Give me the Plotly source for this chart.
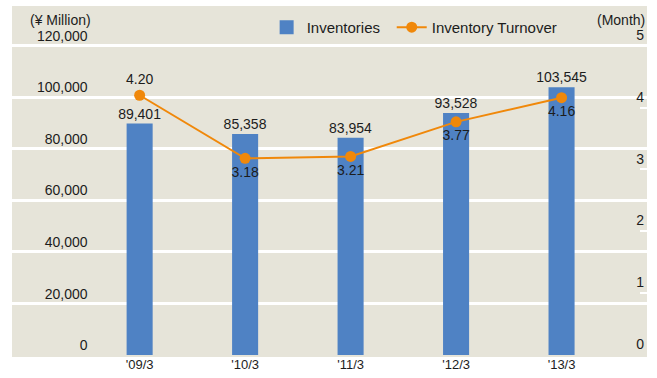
import plotly.graph_objects as go

# Fiscal periods and values
periods = ["'09/3", "'10/3", "'11/3", "'12/3", "'13/3"]
inventories = [89401, 85358, 83954, 93528, 103545]      # ¥ Million
turnover = [4.20, 3.18, 3.21, 3.77, 4.16]               # Month

left_ticks = [0, 20000, 40000, 60000, 80000, 100000, 120000]
right_ticks = [0, 1, 2, 3, 4, 5]

BG = "#e6e4d9"
BAR = "#4f82c4"
ORANGE = "#f0880a"
TEXT = "#1c1c1c"
FONT = "Liberation Sans, Arial, sans-serif"

# headroom above the top gridline (background extends past 120,000 / 5)
head = 351 / 311
y_top = left_ticks[-1] * head
y2_top = right_ticks[-1] * head

fig = go.Figure()

fig.add_trace(go.Bar(
    x=periods, y=inventories, name="Inventories",
    # same-colour outline also enlarges the legend swatch
    marker=dict(color=BAR, line=dict(width=2, color=BAR)),
    width=0.228,
    text=[f"{v:,}" for v in inventories],
    textposition="outside",
    constraintext="none",
    textfont=dict(size=14, color=TEXT, family=FONT),
    cliponaxis=False,
    legend="legend",
))

fig.add_trace(go.Scatter(
    x=periods, y=turnover, name="Inventory Turnover", yaxis="y2",
    mode="lines+markers+text",
    line=dict(color=ORANGE, width=2),
    marker=dict(color=ORANGE, size=11),
    text=[f"{v:.2f}" for v in turnover],
    textposition=["top center"] + ["bottom center"] * 4,
    textfont=dict(size=14, color=TEXT, family=FONT),
    cliponaxis=False,
    legend="legend2",
))

legend_style = dict(
    orientation="h", y=0.986, xanchor="left", yanchor="top",
    bgcolor="rgba(0,0,0,0)", font=dict(size=15, color=TEXT),
    itemwidth=30,
)

fig.update_layout(
    width=657, height=378,
    margin=dict(l=12, r=10, t=6, b=21),
    paper_bgcolor="white",
    plot_bgcolor=BG,
    font=dict(family=FONT, color=TEXT, size=14),
    bargap=0.75,
    showlegend=True,
    legend=dict(x=0.401, **legend_style),
    legend2=dict(x=0.598, **legend_style),
    xaxis=dict(
        type="category", range=[-1.21, 4.81],
        showgrid=False, zeroline=False, showline=False, ticks="",
        tickfont=dict(size=13, color=TEXT),
    ),
    yaxis=dict(
        range=[0, y_top], tickvals=left_ticks,
        tickformat=",d",
        anchor="free", position=0.119,
        showgrid=True, gridcolor="white", gridwidth=3,
        zeroline=True, zerolinecolor=BG, zerolinewidth=4,
        showline=False, ticks="",
        ticklabelposition="outside top",
        tickfont=dict(size=14, color=TEXT),
    ),
    yaxis2=dict(
        range=[0, y2_top], tickvals=right_ticks,
        overlaying="y", side="right",
        showgrid=False, zeroline=False, showline=False,
        ticks="inside", ticklen=7, tickwidth=2, tickcolor="white",
        ticklabelposition="inside top",
        tickfont=dict(size=14, color=TEXT),
    ),
    annotations=[
        dict(text="(¥ Million)", xref="paper", yref="paper",
             x=0.127, y=1.0, xanchor="right", yanchor="top", yshift=-4,
             showarrow=False, font=dict(size=14, color=TEXT)),
        dict(text="(Month)", xref="paper", yref="paper",
             x=1.0, y=1.0, xanchor="right", yanchor="top", yshift=-4,
             showarrow=False, font=dict(size=14, color=TEXT)),
    ],
)

fig.write_html("out.html")
